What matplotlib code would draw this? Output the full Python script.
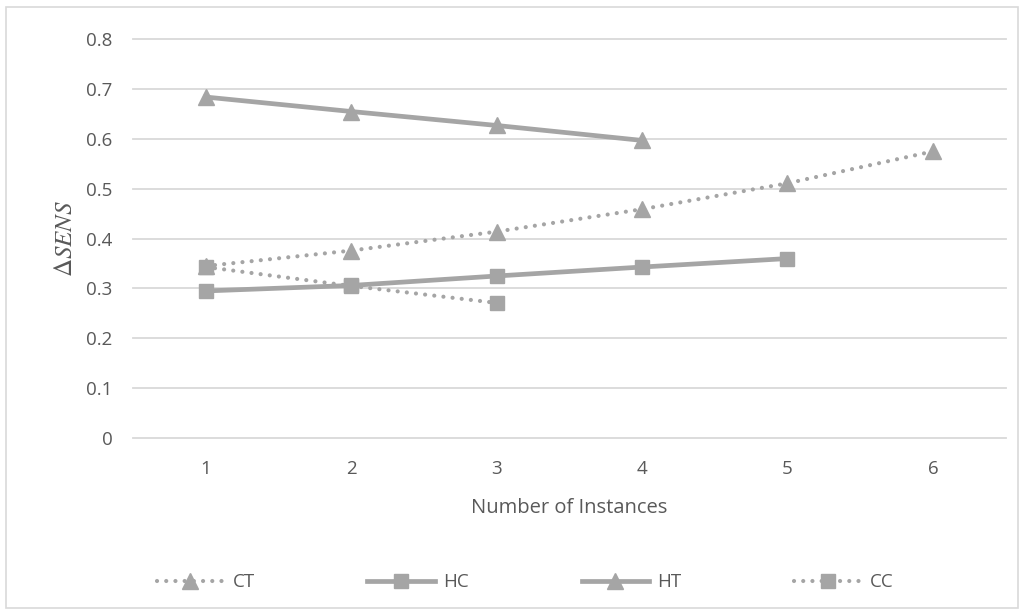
import matplotlib.pyplot as plt
from matplotlib.patches import Rectangle

# data
x_ct = [1, 2, 3, 4, 5, 6]
ct = [0.345, 0.376, 0.414, 0.459, 0.511, 0.575]
x_hc = [1, 2, 3, 4, 5]
hc = [0.295, 0.306, 0.325, 0.343, 0.360]
x_ht = [1, 2, 3, 4]
ht = [0.684, 0.655, 0.627, 0.597]
x_cc = [1, 2, 3]
cc = [0.343, 0.305, 0.271]

yticks = [0, 0.1, 0.2, 0.3, 0.4, 0.5, 0.6, 0.7, 0.8]
xticks = [1, 2, 3, 4, 5, 6]

gray = "#A5A5A5"
text_col = "#595959"
plt.rcParams["font.family"] = ["Open Sans", "DejaVu Sans"]
plt.rcParams["mathtext.fontset"] = "stix"

fig = plt.figure(figsize=(10.24, 6.13), dpi=100)
ax = fig.add_axes([0.130, 0.2855, 0.852, 0.6505])

dots = (0, (0.01, 2.2))
ax.plot(x_ct, ct, color=gray, lw=3, linestyle=dots, dash_capstyle="round",
        marker="^", markersize=11, label="CT")
ax.plot(x_hc, hc, color=gray, lw=3.4, marker="s", markersize=10, label="HC")
ax.plot(x_ht, ht, color=gray, lw=3.4, marker="^", markersize=11, label="HT")
ax.plot(x_cc, cc, color=gray, lw=3, linestyle=dots, dash_capstyle="round",
        marker="s", markersize=10, label="CC")

ax.set_xlim(0.5, 6.5)
ax.set_ylim(0, 0.8)
ax.set_yticks(yticks)
ax.set_yticklabels([f"{v:g}" for v in yticks])
ax.set_xticks(xticks)
ax.grid(axis="y", color="#D9D9D9", lw=1.3)
for gl in ax.get_ygridlines():
    gl.set_clip_on(False)
ax.set_axisbelow(True)
for s in ax.spines.values():
    s.set_visible(False)
ax.tick_params(length=0, colors=text_col, labelsize=13.5)
ax.tick_params(axis="x", pad=16)
ax.tick_params(axis="y", pad=15)

ax.set_xlabel("Number of Instances", color=text_col, fontsize=14.5, labelpad=14)
ax.set_ylabel(r"$\mathit{\Delta SENS}$", color=text_col, fontsize=18, labelpad=6)

leg = fig.legend(loc="center", bbox_to_anchor=(0.513, 0.05), ncol=4, frameon=False,
                 fontsize=13.5, handlelength=3.6, columnspacing=6.0, handletextpad=0.45,
                 numpoints=1)
for t in leg.get_texts():
    t.set_color(text_col)

fig.patches.append(Rectangle((0.006, 0.008), 0.988, 0.981, transform=fig.transFigure,
                             fill=False, edgecolor="#D9D9D9", lw=1.2))

fig.savefig("out.png", dpi=100)
